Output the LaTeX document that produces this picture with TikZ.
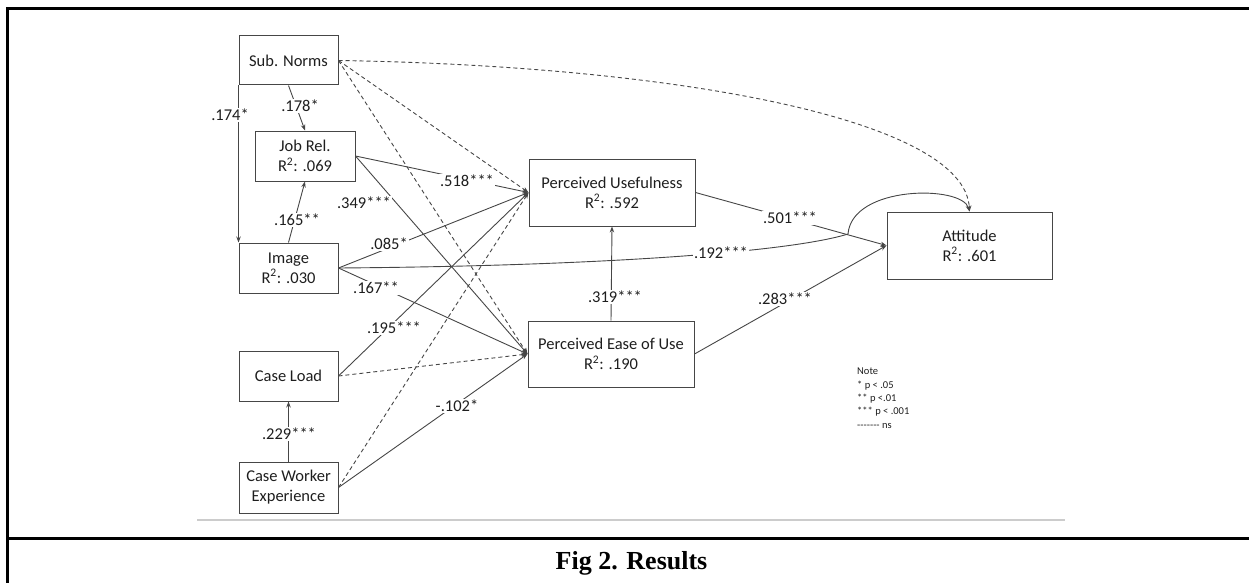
\documentclass[tikz,border=0pt]{standalone}
\usepackage{fontspec}
\setmainfont{Carlito}
\newfontfamily\capfont{Liberation Serif}
\usetikzlibrary{arrows.meta}
\definecolor{ln}{RGB}{70,70,70}
\definecolor{tx}{RGB}{30,30,30}
\tikzset{
  box/.style={draw=ln, line width=1pt, rectangle, align=center, text=tx, inner sep=0pt,
    font=\fontsize{16.5}{20}\selectfont},
  lbl/.style={fill=white, text=tx, inner sep=1pt, font=\fontsize{16.5}{20}\selectfont},
  arr/.style={draw=ln, line width=0.9pt, -{Stealth[length=6pt,width=4.5pt]}},
  dsh/.style={arr, dash pattern=on 4pt off 3pt},
}
\begin{document}
\begin{tikzpicture}[x=1pt,y=-1pt]
\useasboundingbox (0,0) rectangle (1249,583);
% frame
\draw[line width=3pt] (7,583) -- (7,9) -- (1249,9);
\draw[line width=3pt] (7,538) -- (1249,538);
\draw[line width=1.5pt, color=black!20] (197,520) -- (1065,520);
\node[font=\capfont\bfseries\fontsize{26}{30}\selectfont] (cap) at (631.5,563) {Fig 2. Results};

% nodes
\node[box, minimum width=99pt, minimum height=49pt] (SN) at (288.5,60.5) {Sub. Norms};
\node[box, minimum width=100pt, minimum height=50pt] (JR) at (305,156) {Job Rel.\\R\textsuperscript{2}: .069};
\node[box, minimum width=99pt, minimum height=50pt] (IM) at (288.5,268) {Image\\R\textsuperscript{2}: .030};
\node[box, minimum width=99pt, minimum height=50pt] (CL) at (288.5,376) {Case Load};
\node[box, minimum width=99pt, minimum height=51pt] (CW) at (288.5,487.5) {Case Worker\\Experience};
\node[box, minimum width=166pt, minimum height=67pt] (PU) at (612,192.5) {Perceived Usefulness\\R\textsuperscript{2}: .592};
\node[box, minimum width=166pt, minimum height=66pt] (PE) at (611,354) {Perceived Ease of Use\\R\textsuperscript{2}: .190};
\node[box, minimum width=165pt, minimum height=67pt] (AT) at (969.5,245.5) {Attitude\\R\textsuperscript{2}: .601};

% dashed (ns) paths
\draw[dsh] (SN.east) -- (PU.west);
\draw[dsh] (SN.east) -- (PE.west);
\draw[dsh] (SN.east) .. controls (680,66) and (965,120) .. (AT.north);
\draw[dsh] (CL.east) -- (PE.west);
\draw[dsh] (CW.east) -- (PU.west);

% solid paths
\draw[arr] (SN.south) -- (JR.north);
\draw[arr] (SN.south west) -- (IM.north west);
\draw[arr] (IM.north) -- (JR.south);
\draw[arr] (JR.east) -- (PU.west);
\draw[arr] (JR.east) -- (PE.west);
\draw[arr] (IM.east) -- (PU.west);
\draw[arr] (IM.east) -- (PE.west);
\draw[arr] (CL.east) -- (PU.west);
\draw[arr] (CW.north) -- (CL.south);
\draw[arr] (CW.east) -- (PE.west);
\draw[arr] (PE.north) -- (PU.south);
\draw[arr] (PU.east) -- (AT.west);
\draw[arr] (PE.east) -- (AT.west);
\draw[arr] (IM.east) .. controls (600,266) and (790,252) .. (848,234)
   .. controls (852,185) and (962,185) .. (AT.north);

% labels
\node[lbl] (l178) at (300,106) {.178*};
\node[lbl] (l174) at (230,115) {.174*};
\node[lbl] (l165) at (297,220) {.165**};
\node[lbl] (l349) at (364,203) {.349***};
\node[lbl] (l085) at (389,244) {.085*};
\node[lbl] (l167) at (376,288) {.167**};
\node[lbl] (l195) at (394,328) {.195***};
\node[lbl] (l518) at (467,181) {.518***};
\node[lbl] (l229) at (289,434) {.229***};
\node[lbl] (l102) at (457,406) {-.102*};
\node[lbl] (l319) at (615,297) {.319***};
\node[lbl] (l283) at (785,299) {.283***};
\node[lbl] (l501) at (790,218) {.501***};
\node[lbl] (l192) at (721,253) {.192***};

% note
\node[anchor=north west, align=left, inner sep=0pt, text=tx,
  font=\fontsize{10.5}{13.3}\selectfont] (note) at (857,368)
  {Note\\* p {<} .05\\** p {<}.01\\*** p {<} .001\\-{}-{}-{}-{}-{}-{}- ns};
\end{tikzpicture}
\end{document}
